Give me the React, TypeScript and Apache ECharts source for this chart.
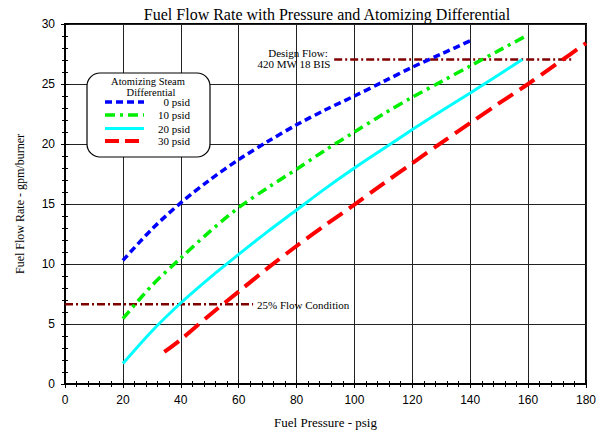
import React, { useEffect, useRef } from "react";
import * as echarts from "echarts";

const title = "Fuel Flow Rate with Pressure and Atomizing Differential";
const xName = "Fuel Pressure - psig";
const yName = "Fuel Flow Rate - gpm/burner";
const seriesNames = ["0 psid", "10 psid", "20 psid", "30 psid"];

const p0 = [20, 30, 40, 50, 60, 70, 80, 90, 100, 110, 120, 130, 140];
const f0 = [10.3, 12.9, 15.1, 17.0, 18.7, 20.2, 21.6, 22.85, 24.0, 25.2, 26.4, 27.5, 28.6];
const p10 = [20, 30, 40, 50, 60, 70, 80, 90, 100, 110, 120, 130, 140, 150, 160];
const f10 = [5.45, 8.2, 10.5, 12.7, 14.7, 16.35, 17.9, 19.5, 21.0, 22.5, 23.9, 25.2, 26.5, 27.8, 29.1];
const p20 = [20, 30, 40, 50, 60, 70, 80, 90, 100, 110, 120, 130, 140, 150, 158];
const f20 = [1.7, 4.4, 6.75, 8.85, 10.8, 12.7, 14.5, 16.3, 18.0, 19.6, 21.2, 22.75, 24.25, 25.8, 27.05];
const p30 = [34.3, 40, 50, 60, 70, 80, 90, 100, 110, 120, 130, 140, 150, 160, 170, 180];
const f30 = [2.67, 3.7, 5.75, 7.7, 9.65, 11.5, 13.25, 14.95, 16.7, 18.4, 20.1, 21.75, 23.4, 25.0, 26.7, 28.4];

const designX = [93, 175];
const designY = [27.05, 27.05];
const quarterX = [0, 65];
const quarterY = [6.65, 6.65];

const zip = (xs: number[], ys: number[]) => xs.map((x, i) => [x, ys[i]]);

const SERIF = "Liberation Serif";
const SANS = "Liberation Sans";

export default function App() {
  const ref = useRef<HTMLDivElement>(null);
  useEffect(() => {
    document.body.style.margin = "0";
    const chart = echarts.init(ref.current!, null, { renderer: "svg" });
    const axisCommon = {
      min: 0,
      axisLine: { show: true, lineStyle: { color: "#000", width: 2 } },
      axisTick: { show: true, inside: true, length: 4, lineStyle: { color: "#000" } },
      minorTick: { show: true, splitNumber: 5, length: 3, lineStyle: { color: "#000" } },
    };
    const line = (name: string, data: number[][], color: string, width: number, dash: any) => ({
      name,
      type: "line",
      data,
      smooth: 0.3,
      showSymbol: false,
      symbol: "none",
      lineStyle: { color, width, type: dash, cap: "butt" },
      itemStyle: { color },
      z: 3,
    });
    const txt = (text: string, x: number, y: number, size: number, align: string, z = 11) => ({
      type: "text",
      x,
      y,
      z,
      style: {
        text,
        fontFamily: SERIF,
        fontSize: size,
        lineHeight: size,
        fill: "#000",
        align,
        verticalAlign: "middle",
      },
    });
    const legendRows = [
      { y: 102, color: "#0000ff", w: 3.5, dash: [7, 4] },
      { y: 115, color: "#00ee00", w: 3.5, dash: [10, 5, 3, 5] },
      { y: 128.5, color: "#00ffff", w: 3, dash: null },
      { y: 141, color: "#ff0000", w: 4, dash: [14, 6] },
    ];
    const graphics: any[] = [
      txt(title, 327, 14, 16, "center"),
      {
        type: "rect",
        shape: { x: 87, y: 73, width: 123, height: 84, r: 13 },
        style: { fill: "#fff", stroke: "#000", lineWidth: 1.2 },
        z: 10,
      },
      txt("Atomizing Steam", 148, 81, 10.5, "center"),
      txt("Differential", 151, 92.5, 10.5, "center"),
      ...legendRows.flatMap((r, i) => [
        {
          type: "line",
          z: 11,
          shape: { x1: 105, y1: r.y, x2: 144, y2: r.y },
          style: { stroke: r.color, lineWidth: r.w, lineDash: r.dash || undefined },
        },
        txt(seriesNames[i], 190, r.y, 11, "right"),
      ]),
      txt("Design Flow:", 298, 52.5, 11, "center"),
      txt("420 MW 18 BIS", 294, 63.5, 11, "center"),
      txt("25% Flow Condition", 257, 305, 11, "left"),
    ];
    chart.setOption({
      animation: false,
      backgroundColor: "#fff",
      grid: { left: 65, right: 9, top: 24, bottom: 53, show: true, borderColor: "#000", borderWidth: 2, backgroundColor: "transparent" },
      xAxis: [
        {
          ...axisCommon,
          type: "value",
          max: 180,
          interval: 20,
          position: "bottom",
          name: xName,
          nameLocation: "middle",
          nameGap: 32,
          nameTextStyle: { fontFamily: SERIF, fontSize: 13, color: "#000" },
          axisLabel: { color: "#000", fontFamily: SANS, fontSize: 12, margin: 10 },
          splitLine: { show: true, lineStyle: { color: "#222", width: 1 } },
        },
        {
          ...axisCommon,
          type: "value",
          max: 180,
          interval: 20,
          position: "top",
          axisLabel: { show: false },
          splitLine: { show: false },
        },
      ],
      yAxis: [
        {
          ...axisCommon,
          type: "value",
          max: 30,
          interval: 5,
          position: "left",
          name: yName,
          nameLocation: "middle",
          nameGap: 39,
          nameTextStyle: { fontFamily: SERIF, fontSize: 12, color: "#000" },
          axisLabel: { color: "#000", fontFamily: SANS, fontSize: 12, margin: 10 },
          splitLine: { show: true, lineStyle: { color: "#222", width: 1 } },
        },
        {
          ...axisCommon,
          type: "value",
          max: 30,
          interval: 5,
          position: "right",
          axisLabel: { show: false },
          splitLine: { show: false },
        },
      ],
      series: [
        line(seriesNames[0], zip(p0, f0), "#0000ff", 3.5, [7, 4]),
        line(seriesNames[1], zip(p10, f10), "#00ee00", 3.5, [10, 5, 3, 5]),
        line(seriesNames[2], zip(p20, f20), "#00ffff", 3, "solid"),
        line(seriesNames[3], zip(p30, f30), "#ff0000", 4, [18, 8]),
        {
          name: "Design Flow",
          type: "line",
          data: zip(designX, designY),
          showSymbol: false,
          symbol: "none",
          lineStyle: { color: "#800000", width: 2.5, type: [8, 3, 2, 3] },
          z: 2,
        },
        {
          name: "25% Flow Condition",
          type: "line",
          data: zip(quarterX, quarterY),
          showSymbol: false,
          symbol: "none",
          lineStyle: { color: "#800000", width: 2.5, type: [8, 3, 2, 3] },
          z: 2,
        },
      ],
      graphic: graphics,
    });
    return () => chart.dispose();
  }, []);
  return <div ref={ref} style={{ width: 599, height: 437, position: "absolute", left: 0, top: 0 }} />;
}
